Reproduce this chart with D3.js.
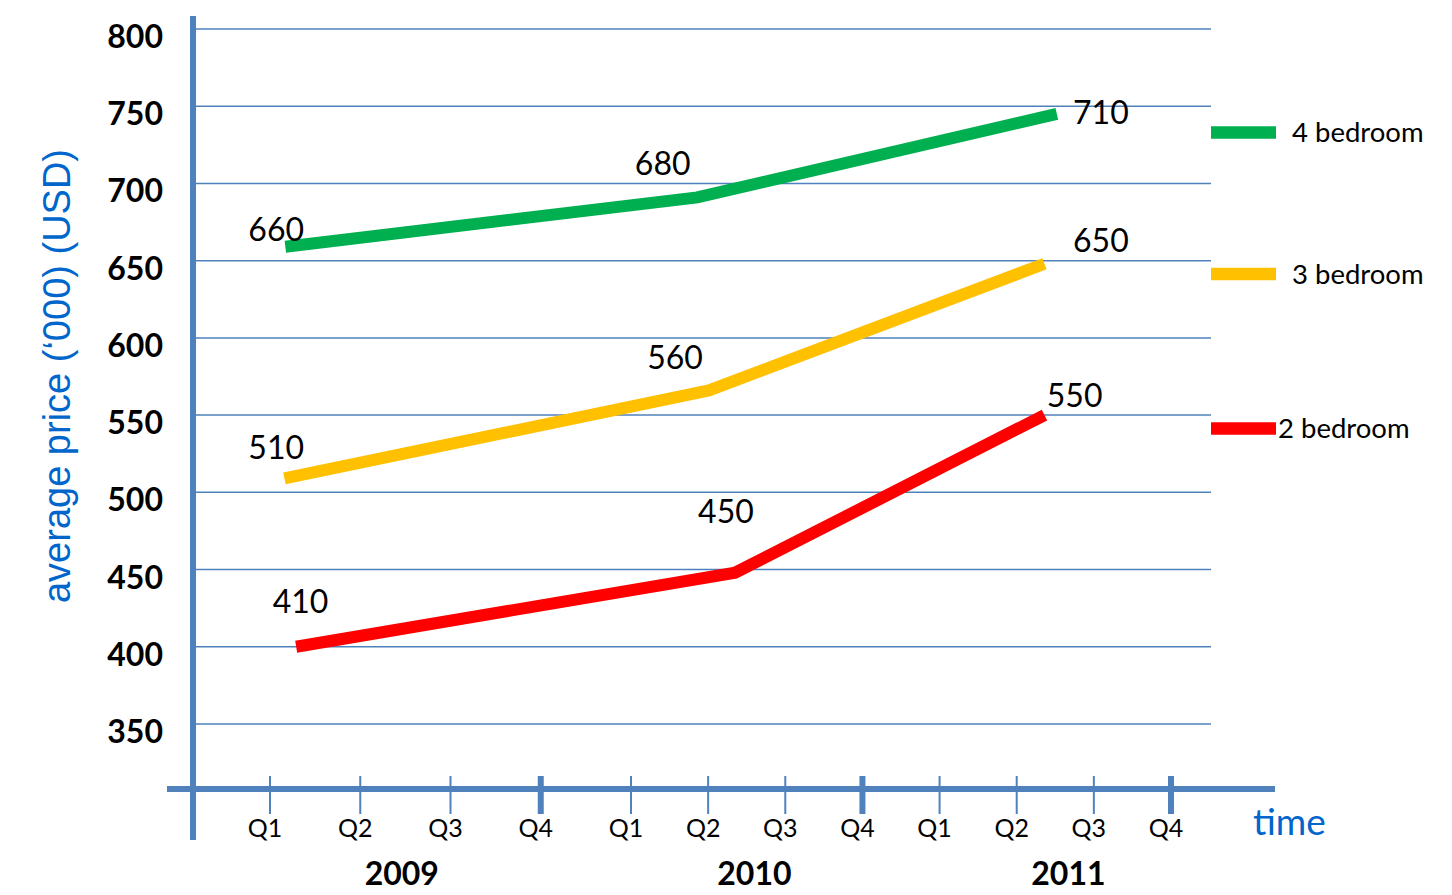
<!DOCTYPE html>
<html><head><meta charset="utf-8">
<script src="https://cdn.jsdelivr.net/npm/d3@7"></script>
<style>body{margin:0;background:#fff}svg{display:block}</style>
</head><body><svg id="c" width="1452" height="895"></svg>
<script>
// ---------- data ----------
const years = ["2009", "2010", "2011"];
const quarters = ["Q1", "Q2", "Q3", "Q4"];
const yTicks = [350, 400, 450, 500, 550, 600, 650, 700, 750, 800];
const seriesNames = ["4 bedroom", "3 bedroom", "2 bedroom"];
// time position in quarter index (0 = Q1 2009) and average price ('000 USD)
const time4 = [0.17, 4.86, 9.52];
const price4 = [659, 691, 745];
const time3 = [0.16, 5.01, 9.36];
const price3 = [509, 566, 648];
const time2 = [0.29, 5.35, 9.36];
const price2 = [400, 448, 550];
// value labels written on the chart, with their anchor in data units
const labelText4 = ["660", "680", "710"];
const labelTime4 = [-0.24, 4.05, 9.73];
const labelPrice4 = [663, 705.5, 738.5];
const labelText3 = ["510", "560", "650"];
const labelTime3 = [-0.24, 4.21, 9.73];
const labelPrice3 = [521.6, 579.8, 655.6];
const labelText2 = ["410", "450", "550"];
const labelTime2 = [0.03, 4.87, 9.39];
const labelPrice2 = [421.9, 480.1, 555.2];

// ---------- layout / style ----------
const colors = ["#00B050", "#FFC000", "#FF0000"];
const axisColor = "#4F81BD";
const blue = "#0066CC";
const yearLabelTime = [1.46, 5.6, 9.67];
const legendY = [132.5, 274, 428.5];
const legendTextX = [1292, 1292, 1278];

const svg = d3.select("#c");
const x = d3.scaleLinear().domain([0, 4, 11]).range([270, 631, 1171]);
const y = d3.scaleLinear().domain([350, 800]).range([724, 29]);

// gridlines
svg.append("g").selectAll("line").data(yTicks).join("line")
  .attr("x1", 196).attr("x2", 1211)
  .attr("y1", d => y(d)).attr("y2", d => y(d))
  .attr("stroke", axisColor).attr("stroke-width", 1.5);

// y tick labels
svg.append("g").selectAll("text").data(yTicks).join("text")
  .attr("x", 163).attr("y", d => y(d) + 19)
  .attr("text-anchor", "end")
  .attr("font-family", "Lato, sans-serif").attr("font-weight", "bold")
  .attr("font-size", 32).attr("fill", "#000")
  .text(d => d);

// axes
svg.append("line").attr("x1", 193).attr("x2", 193).attr("y1", 16).attr("y2", 840)
  .attr("stroke", axisColor).attr("stroke-width", 6);
svg.append("line").attr("x1", 167).attr("x2", 1275).attr("y1", 789).attr("y2", 789)
  .attr("stroke", axisColor).attr("stroke-width", 6);

// x ticks
const qIdx = d3.range(12);
svg.append("g").selectAll("line").data(qIdx).join("line")
  .attr("x1", d => x(d)).attr("x2", d => x(d))
  .attr("y1", 776).attr("y2", 814)
  .attr("stroke", axisColor)
  .attr("stroke-width", d => (d % 4 === 3 ? 6 : 2));

svg.append("g").selectAll("text").data(qIdx).join("text")
  .attr("x", d => x(d) - 5).attr("y", 837)
  .attr("text-anchor", "middle")
  .attr("font-family", "Lato, sans-serif").attr("font-size", 25).attr("fill", "#000")
  .text(d => quarters[d % 4]);

svg.append("g").selectAll("text").data(years).join("text")
  .attr("x", (d, i) => x(yearLabelTime[i])).attr("y", 885)
  .attr("text-anchor", "middle")
  .attr("font-family", "Lato, sans-serif").attr("font-weight", "bold")
  .attr("font-size", 32).attr("fill", "#000")
  .text(d => d);

// axis titles
svg.append("text")
  .attr("transform", "translate(70,376) rotate(-90)")
  .attr("text-anchor", "middle")
  .attr("font-family", "'Liberation Sans', Arial, sans-serif").attr("font-size", 38)
  .attr("fill", blue)
  .text("average price (\u2018000) (USD)");
svg.append("text").attr("x", 1253).attr("y", 835)
  .attr("font-family", "Lato, sans-serif").attr("font-size", 37).attr("fill", blue)
  .text("time");

// lines
const series = [
  {t: time4, v: price4, lt: labelText4, lx: labelTime4, ly: labelPrice4},
  {t: time3, v: price3, lt: labelText3, lx: labelTime3, ly: labelPrice3},
  {t: time2, v: price2, lt: labelText2, lx: labelTime2, ly: labelPrice2}
];
const line = d3.line().x(d => x(d[0])).y(d => y(d[1]));
series.forEach((s, i) => {
  svg.append("path")
    .attr("d", line(s.t.map((t, j) => [t, s.v[j]])))
    .attr("fill", "none").attr("stroke", colors[i]).attr("stroke-width", 12)
    .attr("stroke-linecap", "butt").attr("stroke-linejoin", "miter");
  svg.append("g").selectAll("text").data(s.lt).join("text")
    .attr("x", (d, j) => x(s.lx[j])).attr("y", (d, j) => y(s.ly[j]))
    .attr("font-family", "Lato, sans-serif").attr("font-size", 32).attr("fill", "#000")
    .text(d => d);
});

// legend
seriesNames.forEach((n, i) => {
  svg.append("line").attr("x1", 1211).attr("x2", 1276)
    .attr("y1", legendY[i]).attr("y2", legendY[i])
    .attr("stroke", colors[i]).attr("stroke-width", 12.5);
  svg.append("text").attr("x", legendTextX[i]).attr("y", legendY[i] + 9.5)
    .attr("font-family", "Lato, sans-serif").attr("font-size", 27.5).attr("fill", "#000")
    .text(n);
});
</script></body></html>
